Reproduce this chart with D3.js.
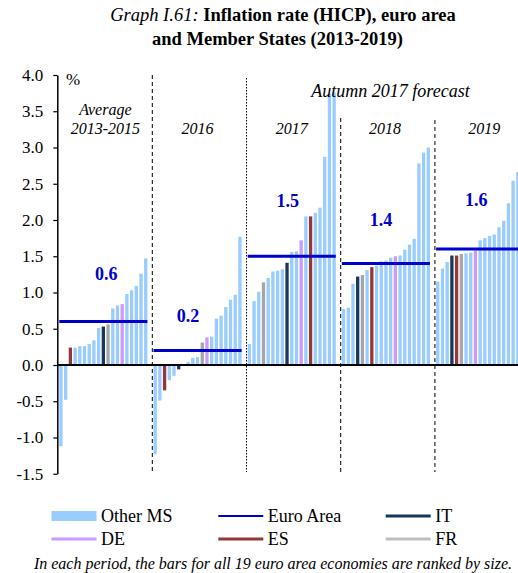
<!DOCTYPE html>
<html>
<head>
<meta charset="utf-8">
<script src="https://cdn.jsdelivr.net/npm/d3@7"></script>
<style>
  html, body { margin: 0; padding: 0; background: #fff; }
  svg { display: block; font-family: "Liberation Serif", "Times New Roman", serif; }
  svg text { font-family: "Liberation Serif", "Times New Roman", serif; }
</style>
</head>
<body>
<svg id="chart" width="518" height="573"></svg>
<script>
// HICP inflation: euro area aggregate and the 19 member states, ranked within each period.
const periodNames = [["Average", "2013-2015"], ["2016"], ["2017"], ["2018"], ["2019"]];
const euroArea = [0.6, 0.2, 1.5, 1.4, 1.6];

const rates1315 = [-1.12, -0.48, 0.24, 0.24, 0.26, 0.26, 0.29, 0.34, 0.51, 0.53, 0.56, 0.78, 0.82, 0.84, 0.98, 1.03, 1.09, 1.26, 1.47];
const codes1315 = ["MS","MS","ES","MS","MS","MS","MS","MS","MS","IT","FR","MS","MS","DE","MS","MS","MS","MS","MS"];

const rates2016 = [-1.23, -0.49, -0.35, -0.21, -0.15, -0.06, 0.0, 0.04, 0.10, 0.11, 0.31, 0.38, 0.39, 0.64, 0.68, 0.80, 0.90, 0.97, 1.77];
const codes2016 = ["MS","MS","ES","MS","MS","IT","MS","MS","MS","MS","FR","DE","MS","MS","MS","MS","MS","MS","MS"];

const rates2017 = [0.29, 0.88, 1.01, 1.14, 1.20, 1.29, 1.30, 1.32, 1.41, 1.56, 1.57, 1.72, 2.05, 2.05, 2.10, 2.17, 2.87, 3.74, 3.76];
const codes2017 = ["MS","MS","MS","FR","MS","MS","MS","MS","IT","MS","MS","DE","MS","ES","MS","MS","MS","MS","MS"];

const rates2018 = [0.77, 0.79, 1.12, 1.22, 1.24, 1.31, 1.35, 1.37, 1.43, 1.44, 1.48, 1.50, 1.51, 1.59, 1.66, 1.74, 2.78, 2.93, 3.00];
const codes2018 = ["MS","MS","MS","IT","FR","MS","ES","MS","MS","MS","MS","DE","MS","MS","MS","MS","MS","MS","MS"];

const rates2019 = [1.15, 1.33, 1.42, 1.51, 1.51, 1.53, 1.54, 1.55, 1.58, 1.72, 1.75, 1.78, 1.80, 1.90, 1.99, 2.23, 2.54, 2.66, 2.90];
const codes2019 = ["MS","MS","MS","IT","ES","FR","MS","MS","DE","MS","MS","MS","MS","MS","MS","MS","MS","MS","MS"];

const yTicks = [-1.5, -1.0, -0.5, 0.0, 0.5, 1.0, 1.5, 2.0, 2.5, 3.0, 3.5, 4.0];

const legendRows = [
  [{ code: "MS", label: "Other MS", kind: "rect" }, { code: "EA", label: "Euro Area", kind: "line" }, { code: "IT", label: "IT", kind: "line" }],
  [{ code: "DE", label: "DE", kind: "line" }, { code: "ES", label: "ES", kind: "line" }, { code: "FR", label: "FR", kind: "line" }]
];

// ---- styling / layout ----
const serif = '"Liberation Serif", "Times New Roman", serif';
const colors = { MS: "#99CCFF", IT: "#17375E", ES: "#953735", FR: "#A6A6A6", DE: "#CC99FF", EA: "#0000CC" };
const legendColors = Object.assign({}, colors, { FR: "#BFBFBF" });
const euroLabelNudge = [[3, -41.5], [-9.5, -29], [-4, -49.5], [-5, -38], [-4, -43]];
const periodLabelDx = [2, 0, 0, -1, 4];
const dividerTop = [75, 78, 118, 120];
const dividerDash = ["4,3", "1.5,1.5", "4,3", "4,3"];

const rates = [rates1315, rates2016, rates2017, rates2018, rates2019];
const codes = [codes1315, codes2016, codes2017, codes2018, codes2019];
const slotsPerPeriod = 20;

const svg = d3.select("#chart");

const x = d3.scaleBand()
  .domain(d3.range(rates.length * slotsPerPeriod))
  .range([58.6, 529.6])
  .paddingInner(0.3)
  .paddingOuter(0.15);
const y = d3.scaleLinear().domain([-1.5, 4]).range([473.75, 75]);
const bw = x.bandwidth();

// Title
const title = svg.append("text").attr("text-anchor", "middle").style("font-size", "18.5px");
title.append("tspan").attr("x", 283).attr("y", 21).style("font-style", "italic").text("Graph I.61: ");
title.append("tspan").style("font-weight", "bold").text("Inflation rate (HICP), euro area");
svg.append("text").attr("x", 277.5).attr("y", 44.5).attr("text-anchor", "middle")
  .style("font-size", "18.5px").style("font-weight", "bold").text("and Member States (2013-2019)");

// Bars
const barData = rates.flatMap((vals, g) => vals.map((v, i) => ({ g, i, v, code: codes[g][i] })));
svg.append("g").selectAll("rect").data(barData).join("rect")
  .attr("x", d => x(d.g * slotsPerPeriod + d.i))
  .attr("width", bw)
  .attr("y", d => Math.min(y(d.v), y(0)))
  .attr("height", d => Math.abs(y(d.v) - y(0)))
  .attr("fill", d => colors[d.code]);

// Period dividers
svg.append("g").selectAll("line").data(d3.range(1, rates.length)).join("line")
  .attr("x1", g => x(g * slotsPerPeriod) - 1.2)
  .attr("x2", g => x(g * slotsPerPeriod) - 1.2)
  .attr("y1", g => dividerTop[g - 1])
  .attr("y2", 472)
  .attr("stroke", "#000")
  .attr("stroke-width", 1)
  .attr("stroke-dasharray", g => dividerDash[g - 1]);

// Euro area lines and value labels
const groupStart = g => x(g * slotsPerPeriod);
const groupEnd = g => x(g * slotsPerPeriod + rates[g].length - 1) + bw;
svg.append("g").selectAll("line").data(euroArea).join("line")
  .attr("x1", (d, g) => groupStart(g))
  .attr("x2", (d, g) => groupEnd(g))
  .attr("y1", d => y(d))
  .attr("y2", d => y(d))
  .attr("stroke", colors.EA)
  .attr("stroke-width", 3);
svg.append("g").selectAll("text").data(euroArea).join("text")
  .attr("x", (d, g) => (groupStart(g) + groupEnd(g)) / 2 + euroLabelNudge[g][0])
  .attr("y", (d, g) => y(d) + euroLabelNudge[g][1])
  .attr("text-anchor", "middle")
  .style("font-size", "18px")
  .style("font-weight", "bold")
  .attr("fill", colors.EA)
  .text(d => d.toFixed(1));

// Period labels
svg.append("g").selectAll("text").data(periodNames).join("text")
  .attr("text-anchor", "middle")
  .style("font-size", "16px")
  .style("font-style", "italic")
  .each(function (lines, g) {
    const cx = (groupStart(g) + groupEnd(g)) / 2 + periodLabelDx[g];
    const t = d3.select(this);
    const y0 = lines.length > 1 ? 115 : 134;
    lines.forEach((s, k) => t.append("tspan").attr("x", cx).attr("y", y0 + k * 19).text(s));
  });

svg.append("text").attr("x", 390.5).attr("y", 97).attr("text-anchor", "middle")
  .style("font-size", "18px").style("font-style", "italic").text("Autumn 2017 forecast");

// Zero line
svg.append("line")
  .attr("x1", 57.3).attr("x2", 518)
  .attr("y1", y(0)).attr("y2", y(0))
  .attr("stroke", "#000").attr("stroke-width", 2);

// Y axis
const fmt = d3.formatLocale({ decimal: ".", thousands: ",", grouping: [3], currency: ["", ""], minus: "-" }).format(".1f");
const axis = svg.append("g").attr("transform", "translate(57.3,0)")
  .call(d3.axisLeft(y).tickValues(yTicks).tickSize(4).tickSizeOuter(0).tickPadding(10).tickFormat(fmt));
axis.attr("font-family", serif).attr("font-size", 17);
axis.select(".domain").attr("stroke", "#000").attr("stroke-width", 1.5);
axis.selectAll(".tick line").attr("stroke", "#000").attr("stroke-width", 1.2);
axis.selectAll(".tick text").style("font-family", serif).style("font-size", "17px").attr("fill", "#000");

svg.append("text").attr("x", 66).attr("y", 85).style("font-family", serif).style("font-size", "17px").text("%");

// Legend
const legendX = [51.5, 218.3, 385.7];
const legendY = [516, 539];
legendRows.forEach((row, r) => {
  row.forEach((item, c) => {
    const lx = legendX[c], ly = legendY[r];
    if (item.kind === "rect") {
      svg.append("rect").attr("x", lx).attr("y", ly - 5).attr("width", 45).attr("height", 10)
        .attr("fill", legendColors[item.code]);
    } else {
      svg.append("line").attr("x1", lx).attr("x2", lx + 45).attr("y1", ly).attr("y2", ly)
        .attr("stroke", legendColors[item.code]).attr("stroke-width", item.code === "EA" ? 2 : 3);
    }
    svg.append("text").attr("x", lx + 49.5).attr("y", ly + 6).style("font-size", "18px").text(item.label);
  });
});

// Footnote
svg.append("text").attr("x", 273).attr("y", 569).attr("text-anchor", "middle")
  .style("font-size", "16px").style("font-style", "italic")
  .text("In each period, the bars for all 19 euro area economies are ranked by size.");
</script>
</body>
</html>
